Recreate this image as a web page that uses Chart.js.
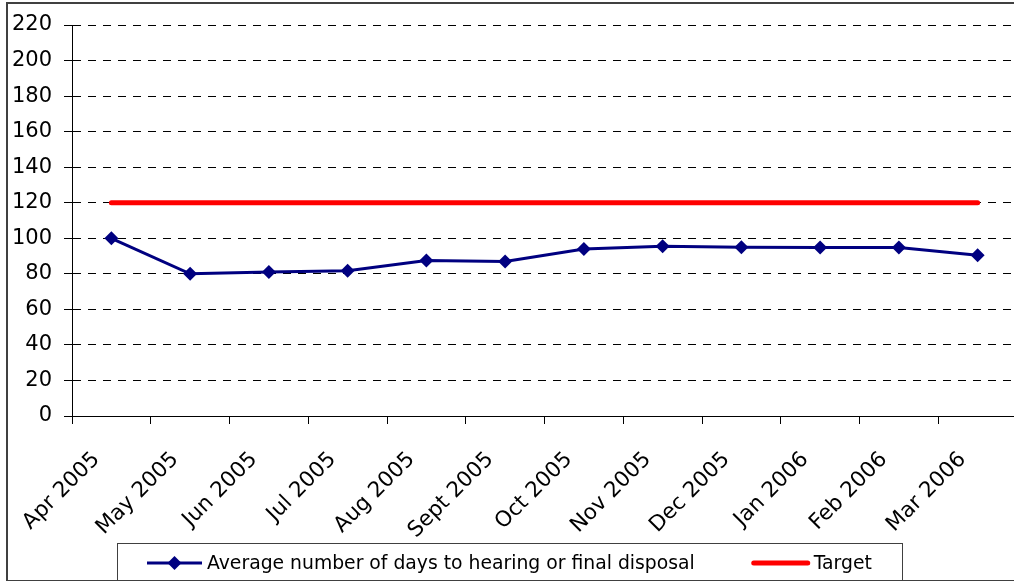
<!DOCTYPE html>
<html>
<head>
<meta charset="utf-8">
<script src="https://cdn.jsdelivr.net/npm/chart.js@4"></script>
<style>
  html, body { margin: 0; padding: 0; background: #fff; overflow: hidden; }
  #wrap { width: 1024px; height: 581px; }
</style>
</head>
<body>
<div id="wrap"><canvas id="daysChart" width="1024" height="581"></canvas></div>
<script>
// Chart data
const months = ['Apr 2005', 'May 2005', 'Jun 2005', 'Jul 2005', 'Aug 2005', 'Sept 2005',
                'Oct 2005', 'Nov 2005', 'Dec 2005', 'Jan 2006', 'Feb 2006', 'Mar 2006'];
const avgDays = [100, 80, 81, 81.7, 87.5, 87, 94, 95.5, 95, 94.8, 94.8, 90.4];
const targetDays = [120, 120, 120, 120, 120, 120, 120, 120, 120, 120, 120, 120];
const seriesNames = ['Average number of days to hearing or final disposal', 'Target'];
const yMin = 0;
const yMax = 220;
const yStep = 20;

const FONT = 'DejaVu Sans';
const NAVY = '#000080';
const RED = '#ff0000';

// Outer frame plus an Excel-style boxed legend under the axis
const frameLegendPlugin = {
    id: 'frameLegend',
    afterDraw(chart) {
        const ctx = chart.ctx;
        ctx.save();
        ctx.strokeStyle = '#404040';
        ctx.lineWidth = 2;
        ctx.strokeRect(7, 3, 1100, 578);

        const ds = chart.data.datasets;
        ctx.font = '18.8px "' + FONT + '"';
        const w1 = ctx.measureText(ds[0].label).width;
        const w2 = ctx.measureText(ds[1].label).width;
        const total = 55 + 5 + w1 + 57 + 58 + 4 + w2;
        let x = Math.round(509 - total / 2);
        const cy = 563;

        // legend box
        ctx.strokeStyle = '#404040';
        ctx.lineWidth = 1;
        ctx.strokeRect(Math.round(x - 30) + 0.5, 543.5, Math.round(total + 60), 60);

        // series 1: line with diamond
        ctx.strokeStyle = ds[0].borderColor;
        ctx.lineWidth = 3;
        ctx.beginPath(); ctx.moveTo(x, cy); ctx.lineTo(x + 55, cy); ctx.stroke();
        ctx.fillStyle = ds[0].borderColor;
        const mx = x + 27.5;
        ctx.beginPath();
        ctx.moveTo(mx, cy - 7); ctx.lineTo(mx + 7, cy); ctx.lineTo(mx, cy + 7); ctx.lineTo(mx - 7, cy);
        ctx.closePath(); ctx.fill();
        ctx.fillStyle = '#000';
        ctx.textBaseline = 'middle';
        ctx.textAlign = 'left';
        ctx.fillText(ds[0].label, x + 60, cy + 1);

        // series 2: thick red line
        x = x + 60 + w1 + 57;
        ctx.strokeStyle = ds[1].borderColor;
        ctx.lineWidth = 5;
        ctx.lineCap = 'round';
        ctx.beginPath(); ctx.moveTo(x + 2, cy); ctx.lineTo(x + 56, cy); ctx.stroke();
        ctx.fillText(ds[1].label, x + 62, cy + 1);
        ctx.restore();
    }
};

document.addEventListener('DOMContentLoaded', function() {
    const ctx = document.getElementById('daysChart');
    new Chart(ctx, {
        type: 'line',
        data: {
            labels: months,
            datasets: [{
                label: seriesNames[0],
                data: avgDays,
                borderColor: NAVY,
                backgroundColor: NAVY,
                borderWidth: 3,
                pointStyle: 'rectRot',
                pointRadius: 7,
                pointBorderWidth: 0,
                pointBackgroundColor: NAVY,
                tension: 0,
                fill: false
            }, {
                label: seriesNames[1],
                data: targetDays,
                borderColor: RED,
                backgroundColor: RED,
                borderWidth: 5,
                borderCapStyle: 'round',
                pointRadius: 0,
                tension: 0,
                fill: false
            }]
        },
        options: {
            responsive: false,
            animation: false,
            layout: { padding: { top: 25, left: 0, right: 0, bottom: 38 } },
            scales: {
                x: {
                    offset: true,
                    grid: {
                        offset: true,
                        drawOnChartArea: false,
                        drawTicks: true,
                        tickLength: 8,
                        tickColor: '#000'
                    },
                    border: { display: true, color: '#000', width: 1 },
                    ticks: {
                        color: '#000',
                        font: { family: FONT, size: 21.5 },
                        maxRotation: 45,
                        minRotation: 45,
                        autoSkip: false,
                        padding: 23,
                        labelOffset: -15
                    },
                    afterFit(scale) { scale.height = 127; }
                },
                y: {
                    min: yMin,
                    max: yMax,
                    grid: {
                        color: '#000',
                        lineWidth: 1,
                        drawTicks: true,
                        tickLength: 8,
                        tickColor: '#000'
                    },
                    border: { display: true, color: '#000', width: 1, dash: [8, 7] },
                    ticks: {
                        stepSize: yStep,
                        color: '#000',
                        font: { family: FONT, size: 21 },
                        padding: 12
                    },
                    afterFit(scale) { scale.width = 72; }
                }
            },
            plugins: {
                legend: { display: false },
                tooltip: { enabled: false }
            }
        },
        plugins: [frameLegendPlugin]
    });
});
</script>
</body>
</html>
